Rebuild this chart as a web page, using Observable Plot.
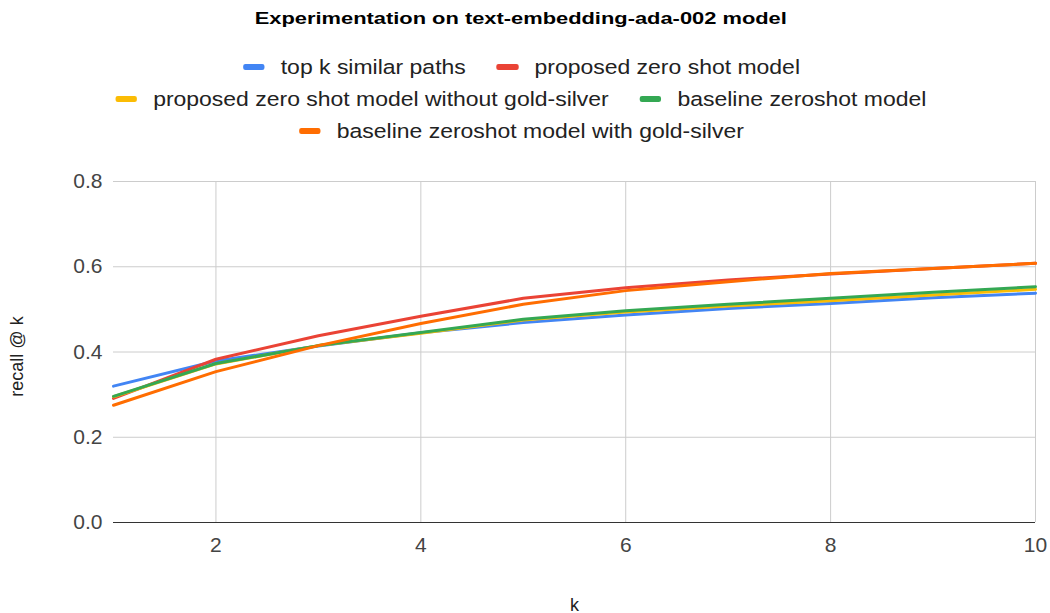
<!DOCTYPE html>
<html>
<head>
<meta charset="utf-8">
<script src="https://cdn.jsdelivr.net/npm/d3@7"></script>
<script src="https://cdn.jsdelivr.net/npm/@observablehq/plot@0.6"></script>
<style>
  body { margin: 0; background: #fff; font-family: "Liberation Sans", Arial, sans-serif; }
  #chart { width: 1050px; }
  .title { width: 1042px; height: 36px; line-height: 36px; text-align: center;
           font-weight: bold; font-size: 16.5px; color: #000; }
  .title span { display: inline-block; transform: scaleX(1.325); }
  .legend { width: 1042px; margin-top: 15px; }
  .row { height: 32px; display: flex; justify-content: center; }
  .row-inner { display: inline-flex; align-items: center; transform: scaleX(1.12); }
  .item { display: inline-flex; align-items: center; margin: 0 13.85px;
          font-size: 20.5px; line-height: 32px; color: #222; white-space: nowrap; }
  .sw { width: 19.4px; height: 6px; border-radius: 2px; margin-right: 14.3px; }
  svg { display: block; }
</style>
</head>
<body>
<div id="chart"></div>
<script>
// recall@k for k = 1..10, one array per model
const kValues = [1, 2, 3, 4, 5, 6, 7, 8, 9, 10];
const topKSimilarPaths        = [0.320, 0.379, 0.414, 0.445, 0.469, 0.487, 0.502, 0.514, 0.527, 0.538];
const proposedZeroShot        = [0.291, 0.383, 0.438, 0.484, 0.526, 0.551, 0.569, 0.583, 0.596, 0.608];
const proposedNoGoldSilver    = [0.295, 0.372, 0.415, 0.444, 0.475, 0.494, 0.508, 0.520, 0.534, 0.547];
const baselineZeroShot        = [0.296, 0.373, 0.415, 0.446, 0.477, 0.497, 0.512, 0.526, 0.540, 0.553];
const baselineWithGoldSilver  = [0.275, 0.354, 0.415, 0.467, 0.512, 0.544, 0.565, 0.584, 0.596, 0.608];

const seriesNames = [
  "top k similar paths",
  "proposed zero shot model",
  "proposed zero shot model without gold-silver",
  "baseline zeroshot model",
  "baseline zeroshot model with gold-silver"
];
const seriesValues = [topKSimilarPaths, proposedZeroShot, proposedNoGoldSilver, baselineZeroShot, baselineWithGoldSilver];
const seriesColors = ["#4285F4", "#EA4335", "#FBBC04", "#34A853", "#FF6D01"];
const legendRows = [[0, 1], [2, 3], [4]];

const xTicks = [2, 4, 6, 8, 10];
const yTicks = [0, 0.2, 0.4, 0.6, 0.8];

const chartTitle = "Experimentation on text-embedding-ada-002 model";
const xLabel = "k";
const yLabel = "recall @ k";

// long-format table, series by series so later series are drawn on top
const rows = seriesNames.flatMap((name, i) =>
  kValues.map((k, j) => ({series: name, k, value: seriesValues[i][j]}))
);

const root = document.getElementById("chart");

// title
const title = document.createElement("div");
title.className = "title";
const tspan = document.createElement("span");
tspan.textContent = chartTitle;
title.appendChild(tspan);
root.appendChild(title);

// legend
const legend = document.createElement("div");
legend.className = "legend";
for (const r of legendRows) {
  const row = document.createElement("div");
  row.className = "row";
  const inner = document.createElement("div");
  inner.className = "row-inner";
  for (const i of r) {
    const item = document.createElement("span");
    item.className = "item";
    const sw = document.createElement("span");
    sw.className = "sw";
    sw.style.background = seriesColors[i];
    item.appendChild(sw);
    item.appendChild(document.createTextNode(seriesNames[i]));
    inner.appendChild(item);
  }
  row.appendChild(inner);
  legend.appendChild(row);
}
root.appendChild(legend);

const chart = Plot.plot({
  width: 1050,
  height: 466,
  marginLeft: 113,
  marginRight: 15,
  marginTop: 34,
  marginBottom: 91,
  style: {fontFamily: "'Liberation Sans', Arial, sans-serif", background: "#fff"},
  x: {domain: [1, 10]},
  y: {domain: [0, 0.8]},
  color: {domain: seriesNames, range: seriesColors},
  marks: [
    Plot.gridX(xTicks, {stroke: "#cccccc", strokeOpacity: 1}),
    Plot.gridY(yTicks.filter(d => d !== 0), {stroke: "#cccccc", strokeOpacity: 1}),
    Plot.axisX(xTicks, {tickSize: 0, tickPadding: 15, fontSize: 21, color: "#444", label: null}),
    Plot.axisY(yTicks, {tickSize: 0, tickPadding: 11, fontSize: 21, color: "#444", tickFormat: ".1f", label: null}),
    Plot.line(rows, {x: "k", y: "value", z: "series", stroke: "series", strokeWidth: 3, strokeLinejoin: "round"}),
    Plot.ruleY([0], {stroke: "#333", strokeWidth: 1.2}),
    Plot.text([xLabel], {frameAnchor: "bottom", dy: 88, fontSize: 18, fill: "#222"}),
    Plot.text([yLabel], {frameAnchor: "left", textAnchor: "middle", lineAnchor: "middle", dx: -96, dy: 4.5, rotate: -90, fontSize: 18, fill: "#222"})
  ]
});
root.appendChild(chart);
</script>
</body>
</html>
